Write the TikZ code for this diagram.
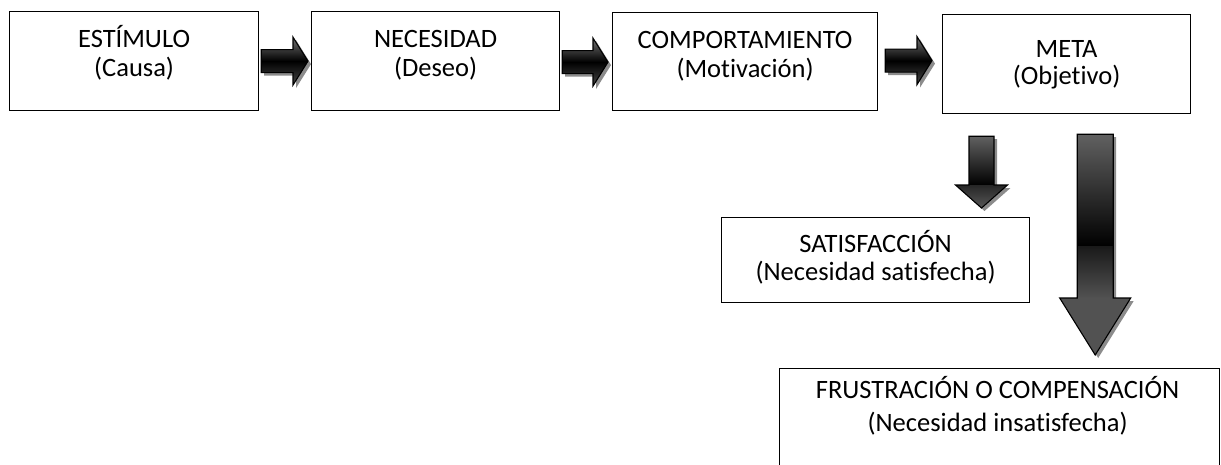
\documentclass[tikz,border=0pt]{standalone}
\usepackage{fontspec}
\setmainfont{Carlito}[Ligatures=NoCommon]
\usetikzlibrary{calc}

% Block arrow pointing right, from a tail point to a tip point at the same height
\newcommand\harrow[2]{%
  \fill[ashadow] ($(#1)+(3,-8.5)$) -- ($(#2)+(-12,-8.5)$) -- ($(#2)+(-12,-21)$) -- ($(#2)+(3,3)$)
     -- ($(#2)+(-12,27)$) -- ($(#2)+(-12,14.5)$) -- ($(#1)+(3,14.5)$) -- cycle;
  \path[hbody] ($(#1)+(0,-11.5)$) -- ($(#2)+(-15,-11.5)$) -- ($(#2)+(-15,-24)$) -- (#2)
     -- ($(#2)+(-15,24)$) -- ($(#2)+(-15,11.5)$) -- ($(#1)+(0,11.5)$) -- cycle;
}

\begin{document}
\begin{tikzpicture}[x=1pt,y=-1pt,
  box/.style={draw=black, line width=1.2pt, inner sep=0pt, anchor=north west},
  lbl/.style={font=\fontsize{26.5}{31}\selectfont, anchor=base, inner sep=0pt},
  ashadow/.style={fill=black!45},
  aline/.style={draw=black, line width=1.1pt, line join=miter},
  hbody/.style={aline, top color=black!55, bottom color=black!72, middle color=black},
]
\useasboundingbox (0,0) rectangle (1221,464);

% boxes
\node[box, minimum width=249pt, minimum height=99pt] (b1) at (9,11) {};
\node[box, minimum width=248pt, minimum height=99pt] (b2) at (311,11) {};
\node[box, minimum width=265pt, minimum height=98pt] (b3) at (612,12) {};
\node[box, minimum width=248pt, minimum height=99pt] (b4) at (942,14) {};
\node[box, minimum width=308pt, minimum height=85pt] (sat) at (721,217) {};
\node[box, minimum width=440pt, minimum height=110pt] (fru) at (779,368) {};

% labels
\node[lbl] (t1a) at (b1.north |- 0,47) {ESTÍMULO};
\node[lbl] (t1b) at (b1.north |- 0,76) {(Causa)};
\node[lbl] (t2a) at (b2.north |- 0,47) {NECESIDAD};
\node[lbl] (t2b) at (b2.north |- 0,76) {(Deseo)};
\node[lbl] (t3a) at (b3.north |- 0,48) {COMPORTAMIENTO};
\node[lbl] (t3b) at (b3.north |- 0,77) {(Motivación)};
\node[lbl] (t4a) at (b4.north |- 0,57) {META};
\node[lbl] (t4b) at (b4.north |- 0,84) {(Objetivo)};
\node[lbl] (t5a) at (sat.north |- 0,252) {SATISFACCIÓN};
\node[lbl] (t5b) at (sat.north |- 0,280) {(Necesidad satisfecha)};
\node[lbl] (t6a) at ($(fru.north |- 0,398)+(-2,0)$) {FRUSTRACIÓN O COMPENSACIÓN};
\node[lbl] (t6b) at ($(fru.north |- 0,431)+(-2,0)$) {(Necesidad insatisfecha)};

% horizontal arrows
\coordinate (a1s) at ($(b1.east)+(2,0)$);
\coordinate (a1e) at ($(b2.west |- b1.east)+(-3,0)$);
\coordinate (a2s) at ($(b2.east)+(2,1)$);
\coordinate (a2e) at ($(b3.west |- a2s)+(-4,0)$);
\coordinate (a3s) at ($(b3.east)+(7,-1)$);
\coordinate (a3e) at ($(b4.west |- a3s)+(-10,0)$);
\harrow{a1s}{a1e}
\harrow{a2s}{a2e}
\harrow{a3s}{a3e}

% small down arrow: META -> SATISFACCION
\coordinate (v1s) at ($(b4.south west)+(39.5,22)$);
\coordinate (v1e) at ($(v1s |- sat.north)+(0,-9)$);
\fill[ashadow] ($(v1s)+(-9.5,3)$) -- ($(v1s)+(15.5,3)$) -- ($(v1e)+(15.5,-20)$) -- ($(v1e)+(29,-20)$)
  -- ($(v1e)+(3,3)$) -- ($(v1e)+(-23,-20)$) -- ($(v1e)+(-9.5,-20)$) -- cycle;
\path[top color=black!62, bottom color=black] ($(v1s)+(-12.5,0)$) rectangle ($(v1e)+(12.5,-23)$);
\path[top color=black!85, bottom color=black!66] ($(v1e)+(-26,-23)$) -- (v1e) -- ($(v1e)+(26,-23)$) -- cycle;
\draw[aline] ($(v1s)+(-12.5,0)$) -- ($(v1s)+(12.5,0)$) -- ($(v1e)+(12.5,-23)$) -- ($(v1e)+(26,-23)$)
  -- (v1e) -- ($(v1e)+(-26,-23)$) -- ($(v1e)+(-12.5,-23)$) -- cycle;

% large down arrow: META -> FRUSTRACION
\coordinate (v2s) at ($(b4.south east)+(-96,20)$);
\coordinate (v2e) at ($(v2s |- fru.north)+(0,-13)$);
\fill[ashadow] ($(v2s)+(-15,3)$) -- ($(v2s)+(21,3)$) -- ($(v2e)+(21,-54)$) -- ($(v2e)+(38.5,-54)$)
  -- ($(v2e)+(3,3)$) -- ($(v2e)+(-32.5,-54)$) -- ($(v2e)+(-15,-54)$) -- cycle;
\path[top color=black!62, bottom color=black] ($(v2s)+(-18,0)$) rectangle ($(v2s)+(18,112)$);
\path[top color=black!90, bottom color=black!68] ($(v2s)+(-18,112)$) rectangle ($(v2e)+(18,-57)$);
\fill[black!68] ($(v2e)+(-35.5,-57)$) -- (v2e) -- ($(v2e)+(35.5,-57)$) -- cycle;
\draw[aline] ($(v2s)+(-18,0)$) -- ($(v2s)+(18,0)$) -- ($(v2e)+(18,-57)$) -- ($(v2e)+(35.5,-57)$)
  -- (v2e) -- ($(v2e)+(-35.5,-57)$) -- ($(v2e)+(-18,-57)$) -- cycle;
\end{tikzpicture}
\end{document}
